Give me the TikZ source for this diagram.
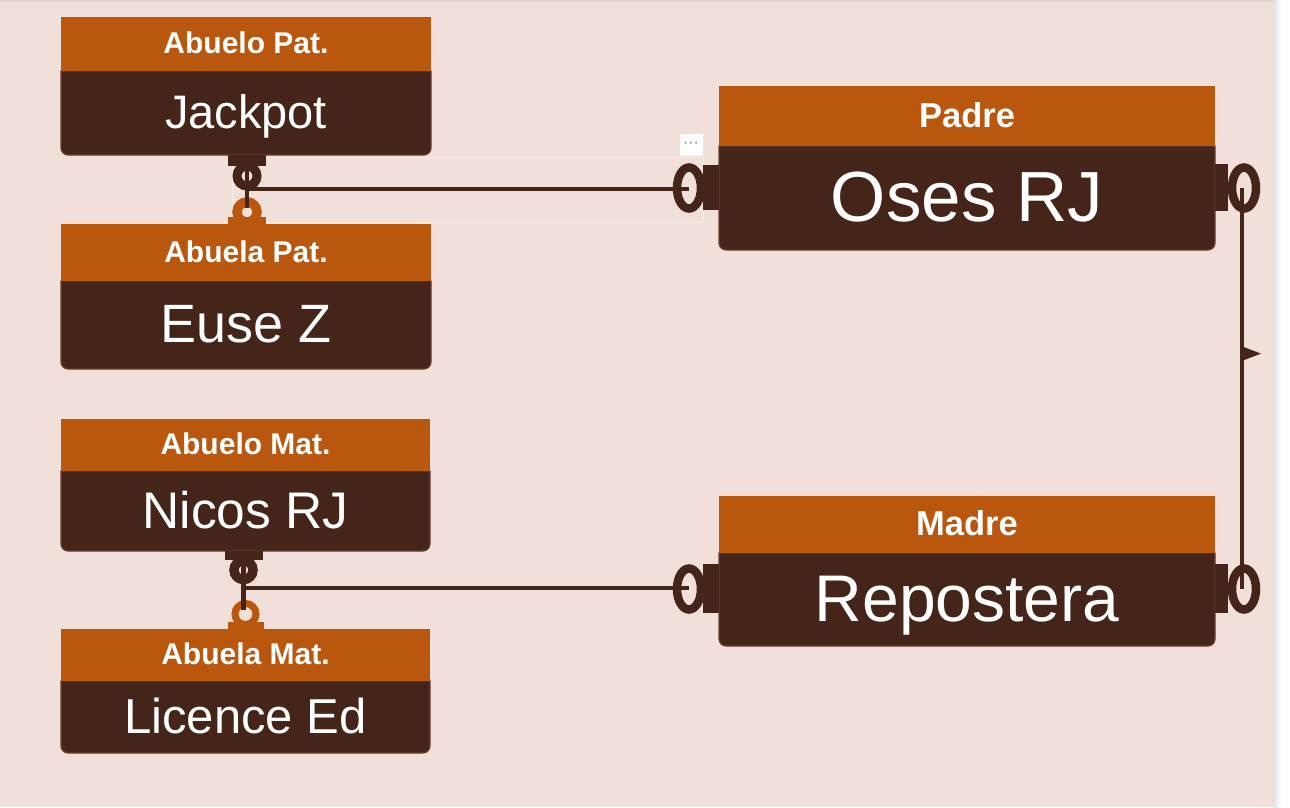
\documentclass[tikz,border=0pt]{standalone}
\usepackage{fontspec}
\setmainfont{Liberation Sans}
\usetikzlibrary{calc,backgrounds}
\definecolor{bgpink}{HTML}{F1E0DA}
\definecolor{hdorange}{HTML}{B9570E}
\definecolor{bdbrown}{HTML}{45241A}
\definecolor{bdedge}{HTML}{6A3F2E}
\tikzset{hsize/.store in=\hsz, bsize/.store in=\bsz}
\def\entity[#1](#2)(#3,#4)(#5:#6:#7)#8#9{%
	\tikzset{#1}%
	\node[headbox, font=\fontsize{\hsz}{\hsz}\selectfont\bfseries, text height={0.72*\hsz pt}, text depth={0.06*\hsz pt},
		minimum width=#5pt, minimum height=#6pt, anchor=north west] (#2h) at (#3,#4) {#8};
	\node[bodytext, font=\fontsize{\bsz}{\bsz}\selectfont, text height={0.72*\bsz pt}, text depth={0.06*\bsz pt},
		minimum width=#5pt, minimum height=#7pt, anchor=north] (#2b) at (#2h.south) {#9};
	\begin{scope}[on background layer]
		\filldraw[bodybox] (#2b.north west) [rounded corners=7pt] -- (#2b.south west) -- (#2b.south east) [sharp corners] -- (#2b.north east) -- cycle;
	\end{scope}}

\begin{document}
\begin{tikzpicture}[x=1pt, y=-1pt,
	headbox/.style={fill=hdorange, text=white, inner sep=0pt, outer sep=0pt},
	bodytext/.style={text=white, inner sep=0pt, outer sep=0pt},
	bodybox/.style={fill=bdbrown, draw=bdedge, line width=1.2pt},
	link/.style={draw=bdbrown, line width=4.5pt},
	endring/.style={draw=#1, line width=9pt}]
		%%%%% START %%%%%
		
		\useasboundingbox (0,0) rectangle (1290,807);
		\begin{scope}[on background layer]
			\fill[bgpink] (0,0) rectangle (1274,807);
			\fill[bgpink!94!black] (0,0) rectangle (1274,1.5);
			\fill[white] (1274,0) rectangle (1290,807);
			\shade[left color=black!12, right color=white] (1273,0) rectangle (1281,807);
		\end{scope}
		
		\entity[hsize=30, bsize=47](ap)(61,17)(370:54:84){Abuelo Pat.}{Jackpot}
		\entity[hsize=30, bsize=54](ep)(61,224)(370:57:88){Abuela Pat.}{Euse Z}
		\entity[hsize=30, bsize=51.5](am)(61,419)(369:52:80){Abuelo Mat.}{Nicos RJ}
		\entity[hsize=30, bsize=49](em)(61,629)(369:52:72){Abuela Mat.}{Licence Ed}
		\entity[hsize=34.5, bsize=71](pa)(719,86)(496:60:104){Padre}{Oses RJ}
		\entity[hsize=34.5, bsize=66](ma)(719,496)(496:57:93){Madre}{Repostera}
		
		% selection frame and menu button
		\draw[white!40!bgpink, line width=0.8pt] (232,157) rectangle (703,222);
		\node[fill=white, minimum width=23pt, minimum height=22pt, inner sep=0pt, text=gray, font=\fontsize{16}{16}\selectfont] (more) at (691,144.5) {···};
		
		% Jackpot -- Euse Z
		\coordinate (apx) at ($(apb.south)+(1,0)$);
		\coordinate (epx) at ($(eph.north)+(1,0)$);
		\fill[bdbrown] ($(apx)+(-19,0)$) rectangle ($(apx)+(19,11)$);
		\draw[endring=bdbrown] ($(apx)+(0,21)$) circle (10pt);
		\fill[hdorange] ($(epx)+(-19,-7)$) rectangle ($(epx)+(19,0)$);
		\draw[endring=hdorange, line width=9.5pt] ($(epx)+(0,-12)$) circle (10pt);
		\coordinate (epr) at ($(epx)+(0,-16)$);
		\draw[link] (apx) -- (epr);
		\coordinate (apj) at ($(apx)+(0,34)$);
		
		% Nicos RJ -- Licence Ed
		\coordinate (amx) at ($(amb.south)+(-2,0)$);
		\coordinate (emx) at ($(emh.north)+(0,0)$);
		\fill[bdbrown] ($(amx)+(-19,0)$) rectangle ($(amx)+(19,9)$);
		\draw[endring=bdbrown, line width=9.5pt] ($(amx)+(0,19)$) circle (9.5pt);
		\fill[hdorange] ($(emx)+(-18,-7)$) rectangle ($(emx)+(18,0)$);
		\draw[endring=hdorange, line width=7pt] ($(emx)+(0,-15)$) circle (10.5pt);
		\coordinate (emr) at ($(emx)+(0,-19)$);
		\draw[link] (amx) -- (amx |- emr);
		\coordinate (amj) at ($(amx)+(0,37)$);
		
		% Padre / Madre ends
		\coordinate (pal) at ($(pab.west)+(-30,-10)$);
		\coordinate (par) at ($(pab.east)+(29,-10)$);
		\coordinate (mal) at ($(mab.west)+(-30,-10.5)$);
		\coordinate (mar) at ($(mab.east)+(29,-10.5)$);
		\fill[bdbrown] ($(pab.west)+(-16,-33)$) rectangle ($(pab.west)+(0,12)$);
		\fill[bdbrown] ($(pab.east)+(0,-34)$) rectangle ($(pab.east)+(13,13)$);
		\fill[bdbrown] ($(mab.west)+(-16,-35.5)$) rectangle ($(mab.west)+(0,13.5)$);
		\fill[bdbrown] ($(mab.east)+(0,-35.5)$) rectangle ($(mab.east)+(13,13.5)$);
		\draw[endring=bdbrown, line width=8.5pt] (pal) ellipse (12pt and 20.5pt);
		\draw[endring=bdbrown, line width=8.5pt] (par) ellipse (12pt and 20.5pt);
		\draw[endring=bdbrown, line width=8.5pt] (mal) ellipse (12pt and 20.5pt);
		\draw[endring=bdbrown, line width=8.5pt] (mar) ellipse (12pt and 20.5pt);
		
		\draw[link] (apj) -- (apj -| pal);
		\draw[link] (amj) -- (amj -| mal);
		\draw[link] ($(par)+(-2,0)$) -- ($(mar)+(-2,0)$);
		\fill[bdbrown] ($(par)!0.413!(mar)+(0,-6.5)$) -- ++(17,6.5) -- ++(-17,6.5) -- cycle;
		
		%%%%% END %%%%%
\end{tikzpicture}
\end{document}
